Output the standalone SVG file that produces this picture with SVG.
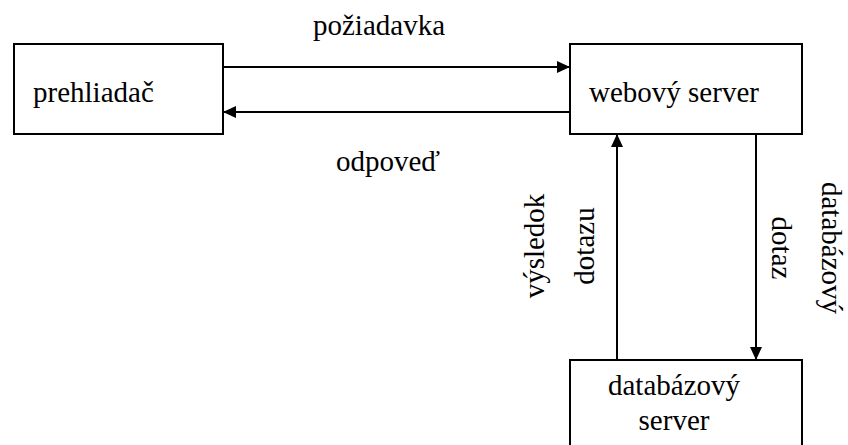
<svg xmlns="http://www.w3.org/2000/svg" width="848" height="445" viewBox="0 0 848 445">
  <style>
    .box { fill: #ffffff; stroke: #000000; stroke-width: 2; }
    .line { fill: none; stroke: #000000; stroke-width: 2; }
    .tx { font-size: 29px; fill: #000000; }
  </style>
  <defs>
    <marker id="arrow" viewBox="0 0 13 12" refX="13" refY="6" markerWidth="13" markerHeight="12" markerUnits="userSpaceOnUse" orient="auto">
      <path d="M0,0 L13,6 L0,12 Z" fill="#000000"/>
    </marker>
  </defs>
  <rect width="848" height="445" fill="#ffffff"/>

  <g id="connectors">
    <line class="line" x1="223" y1="67" x2="570" y2="67" marker-end="url(#arrow)"/>
    <line class="line" x1="570" y1="112" x2="223" y2="112" marker-end="url(#arrow)"/>
    <line class="line" x1="756" y1="134" x2="756" y2="360" marker-end="url(#arrow)"/>
    <line class="line" x1="617" y1="360" x2="617" y2="134" marker-end="url(#arrow)"/>
    <text class="tx" font-family="Times New Roman" style="font-family: 'Times New Roman', 'Liberation Serif', serif !important" x="379" y="35" text-anchor="middle">požiadavka</text>
    <text class="tx" font-family="Times New Roman" style="font-family: 'Times New Roman', 'Liberation Serif', serif !important" x="388" y="171" text-anchor="middle">odpoveď</text>
    <text class="tx" font-family="Times New Roman" style="font-family: 'Times New Roman', 'Liberation Serif', serif !important" transform="translate(544,246) rotate(-90)" text-anchor="middle">výsledok</text>
    <text class="tx" font-family="Times New Roman" style="font-family: 'Times New Roman', 'Liberation Serif', serif !important" transform="translate(594,246) rotate(-90)" text-anchor="middle">dotazu</text>
    <text class="tx" font-family="Times New Roman" style="font-family: 'Times New Roman', 'Liberation Serif', serif !important" transform="translate(772,248) rotate(90)" text-anchor="middle">dotaz</text>
    <text class="tx" font-family="Times New Roman" style="font-family: 'Times New Roman', 'Liberation Serif', serif !important" transform="translate(822,248) rotate(90)" text-anchor="middle">databázový</text>
  </g>

  <g id="prehliadac">
    <rect class="box" x="14" y="44" width="209" height="90"/>
    <text class="tx" font-family="Times New Roman" style="font-family: 'Times New Roman', 'Liberation Serif', serif !important" x="33" y="102">prehliadač</text>
  </g>

  <g id="webovy-server">
    <rect class="box" x="570" y="44" width="232" height="90"/>
    <text class="tx" font-family="Times New Roman" style="font-family: 'Times New Roman', 'Liberation Serif', serif !important" x="589" y="102">webový server</text>
  </g>

  <g id="databazovy-server">
    <rect class="box" x="570" y="360" width="232" height="100"/>
    <text class="tx" font-family="Times New Roman" style="font-family: 'Times New Roman', 'Liberation Serif', serif !important" x="674" y="395" text-anchor="middle">databázový</text>
    <text class="tx" font-family="Times New Roman" style="font-family: 'Times New Roman', 'Liberation Serif', serif !important" x="674" y="430" text-anchor="middle">server</text>
  </g>
</svg>
